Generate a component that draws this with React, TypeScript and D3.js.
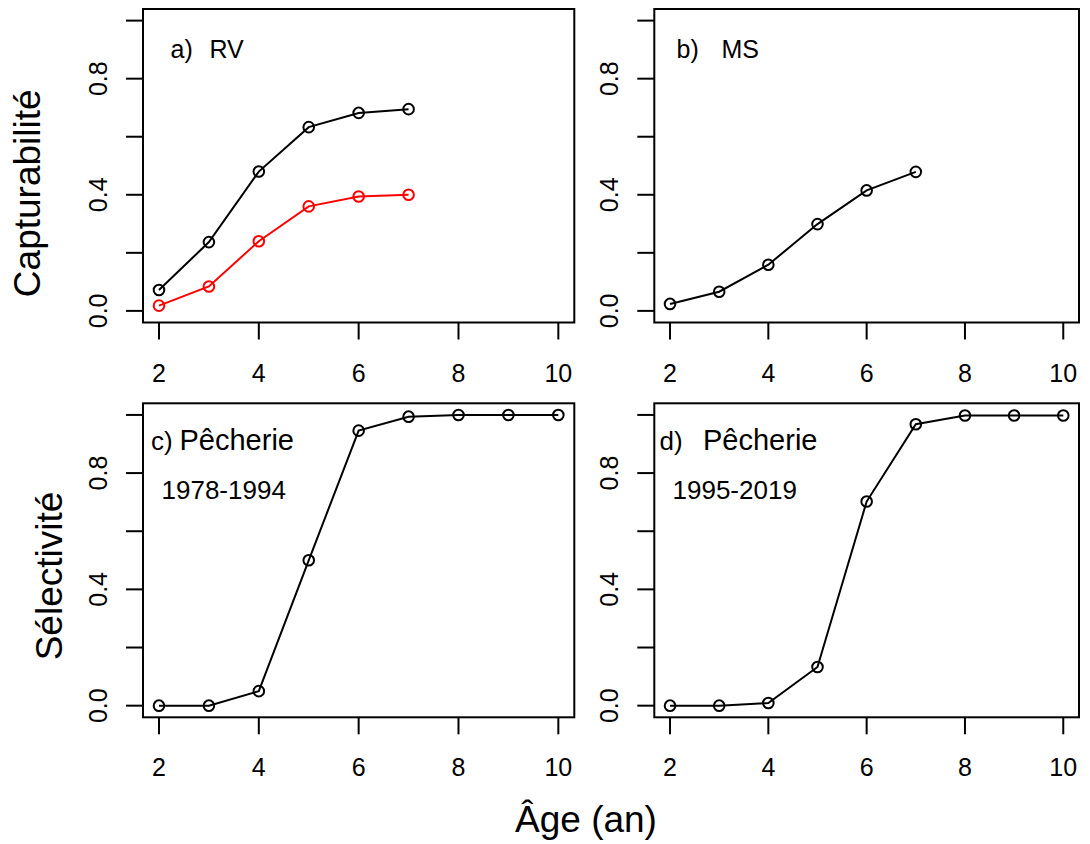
import React from "react";
import * as d3 from "d3";

const ages = [2, 3, 4, 5, 6, 7, 8, 9, 10];
const rvBlack = [0.072, 0.237, 0.48, 0.633, 0.682, 0.695];
const rvRed = [0.018, 0.084, 0.24, 0.36, 0.394, 0.4];
const msValues = [0.024, 0.066, 0.159, 0.299, 0.415, 0.479];
const fish1 = [0, 0, 0.05, 0.5, 0.946, 0.994, 1.0, 1.0, 1.0];
const fish2 = [0, 0, 0.009, 0.133, 0.702, 0.968, 0.998, 0.998, 0.998];
const xTicks = [2, 4, 6, 8, 10];
const yTicks = [0, 0.2, 0.4, 0.6, 0.8, 1.0];
const yLabels = [0, 0.4, 0.8];

const FONT = "'Liberation Sans', Arial, Helvetica, sans-serif";

type Series = { values: number[]; color: string };
type Label = { text: string; x: number; y: number; size: number };

type PanelProps = {
  x0: number;
  x1: number;
  y0: number;
  y1: number;
  series: Series[];
  labels: Label[];
};

function Panel({ x0, x1, y0, y1, series, labels }: PanelProps) {
  const xs = d3.scaleLinear().domain([1.68, 10.32]).range([x0, x1]);
  const ys = d3.scaleLinear().domain([-0.04, 1.04]).range([y1, y0]);
  const line = d3
    .line<number>()
    .x((_, i) => xs(ages[i]))
    .y((d) => ys(d));
  const tick = 17;
  return (
    <g>
      <rect x={x0} y={y0} width={x1 - x0} height={y1 - y0} fill="none" stroke="#000" strokeWidth={2} />
      {xTicks.map((t) => (
        <g key={"x" + t}>
          <line x1={xs(t)} x2={xs(t)} y1={y1} y2={y1 + tick} stroke="#000" strokeWidth={2} />
          <text x={xs(t)} y={y1 + 59} textAnchor="middle" fontSize={25} fontFamily={FONT} fill="#000">
            {t}
          </text>
        </g>
      ))}
      {yTicks.map((t) => (
        <line key={"y" + t} x1={x0 - tick} x2={x0} y1={ys(t)} y2={ys(t)} stroke="#000" strokeWidth={2} />
      ))}
      {yLabels.map((t) => (
        <text
          key={"yl" + t}
          transform={`translate(${x0 - 36.5},${ys(t)}) rotate(-90)`}
          textAnchor="middle"
          fontSize={25}
          fontFamily={FONT}
          fill="#000"
        >
          {t.toFixed(1)}
        </text>
      ))}
      {series.map((s, si) => (
        <g key={"s" + si}>
          <path d={line(s.values) || ""} fill="none" stroke={s.color} strokeWidth={2} />
          {s.values.map((v, i) => (
            <circle key={i} cx={xs(ages[i])} cy={ys(v)} r={5.3} fill="none" stroke={s.color} strokeWidth={2} />
          ))}
        </g>
      ))}
      {labels.map((l, i) => (
        <text key={"l" + i} x={l.x} y={l.y} fontSize={l.size} fontFamily={FONT} fill="#000">
          {l.text}
        </text>
      ))}
    </g>
  );
}

export default function App() {
  const W = 1090;
  const H = 844;
  return (
    <svg width={W} height={H} style={{ position: "absolute", left: 0, top: 0, background: "#fff" }}>
      <rect x={0} y={0} width={W} height={H} fill="#fff" />
      <Panel
        x0={143}
        x1={574.3}
        y0={9}
        y1={322.5}
        series={[
          { values: rvBlack, color: "#000" },
          { values: rvRed, color: "#ff0000" },
        ]}
        labels={[
          { text: "a)", x: 170.5, y: 58, size: 25 },
          { text: "RV", x: 209.5, y: 58, size: 25 },
        ]}
      />
      <Panel
        x0={654.3}
        x1={1079}
        y0={9}
        y1={322.5}
        series={[{ values: msValues, color: "#000" }]}
        labels={[
          { text: "b)", x: 676.5, y: 58, size: 25 },
          { text: "MS", x: 721.5, y: 58, size: 25 },
        ]}
      />
      <Panel
        x0={143}
        x1={574.3}
        y0={403.3}
        y1={717.3}
        series={[{ values: fish1, color: "#000" }]}
        labels={[
          { text: "c)", x: 151, y: 449.5, size: 26 },
          { text: "Pêcherie", x: 179.5, y: 449.5, size: 29 },
          { text: "1978-1994", x: 161.5, y: 498.5, size: 26 },
        ]}
      />
      <Panel
        x0={654.3}
        x1={1079}
        y0={403.3}
        y1={717.3}
        series={[{ values: fish2, color: "#000" }]}
        labels={[
          { text: "d)", x: 659.5, y: 450, size: 26 },
          { text: "Pêcherie", x: 703, y: 450, size: 29 },
          { text: "1995-2019", x: 672.5, y: 498.5, size: 26 },
        ]}
      />
      <text
        transform="translate(40,193.3) rotate(-90)"
        textAnchor="middle"
        fontSize={37}
        fontFamily={FONT}
        fill="#000"
      >
        Capturabilité
      </text>
      <text
        transform="translate(62,576) rotate(-90)"
        textAnchor="middle"
        fontSize={37}
        fontFamily={FONT}
        fill="#000"
      >
        Sélectivité
      </text>
      <text x={586} y={832} textAnchor="middle" fontSize={37} fontFamily={FONT} fill="#000">
        Âge (an)
      </text>
    </svg>
  );
}
